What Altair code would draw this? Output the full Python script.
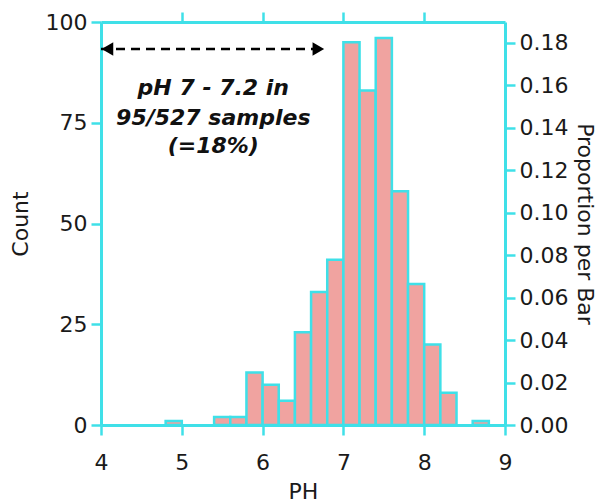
import altair as alt
import pandas as pd

# ---- data ----
bin_start = [4.8, 5.4, 5.6, 5.8, 6.0, 6.2, 6.4, 6.6, 6.8, 7.0, 7.2, 7.4, 7.6, 7.8, 8.0, 8.2, 8.6]
counts = [1, 2, 2, 13, 10, 6, 23, 33, 41, 95, 83, 96, 58, 35, 20, 8, 1]
bin_width = 0.2
total = 527

x_ticks = [4, 5, 6, 7, 8, 9]
top_ticks = [5, 6, 7, 8]
count_ticks = [0, 25, 50, 75, 100]
prop_ticks = [0.00, 0.02, 0.04, 0.06, 0.08, 0.10, 0.12, 0.14, 0.16, 0.18]

ann_lines = ["pH 7 - 7.2 in", "95/527 samples", "(=18%)"]
ann_x = [5.39, 5.39, 5.39]
ann_y = [81.9, 74.4, 67.4]

arrow_x = [4.0]
arrow_x2 = [6.77]
arrow_y = [93.3]
head_x = [4.08, 6.69]
head_y = [93.3, 93.3]
head_shape = ["triangle-left", "triangle-right"]

CYAN = "#3FE0E8"
PINK = "#F0A3A0"
TEXT = "#1a1a1a"
FONT = "DejaVu Sans"

df = pd.DataFrame({
    "start": bin_start,
    "end": [s + bin_width for s in bin_start],
    "count": counts,
})
ann_df = pd.DataFrame({"x": ann_x, "y": ann_y, "line": ann_lines})
arrow_df = pd.DataFrame({"x": arrow_x, "x2": arrow_x2, "y": arrow_y})
head_df = pd.DataFrame({"x": head_x, "y": head_y, "shape": head_shape})

x_scale = alt.Scale(domain=[4, 9], nice=False, zero=False, padding=0)
y_scale = alt.Scale(domain=[0, 100], nice=False, padding=0)

bars = alt.Chart(df).mark_rect(fill=PINK, stroke=CYAN, strokeWidth=2.5).encode(
    x=alt.X("start:Q", scale=x_scale,
            axis=alt.Axis(orient="bottom", values=x_ticks, title="PH", format="d",
                          labelFlush=False, labelPadding=17, titlePadding=8)),
    x2="end:Q",
    y=alt.Y("count:Q", scale=y_scale,
            axis=alt.Axis(orient="left", values=count_ticks, title="Count", titlePadding=13)),
    y2=alt.datum(0),
)

frame = alt.Chart(df).mark_rect(opacity=0).encode(
    x=alt.X("start:Q", scale=x_scale,
            axis=alt.Axis(orient="top", values=top_ticks, labels=False, title=None)),
    x2="end:Q",
    y=alt.Y("count:Q", scale=y_scale,
            axis=alt.Axis(orient="right", values=[p * total for p in prop_ticks],
                          labelExpr="format(datum.value / 527, '.2f')",
                          title="Proportion per Bar", titlePadding=5)),
    y2=alt.datum(0),
)

text = alt.Chart(ann_df).mark_text(
    font=FONT, fontSize=22, fontWeight="bold", fontStyle="italic",
    align="center", baseline="alphabetic", color="#111111",
).encode(
    x=alt.X("x:Q", scale=x_scale, axis=None),
    y=alt.Y("y:Q", scale=y_scale, axis=None),
    text="line:N",
)

rule = alt.Chart(arrow_df).mark_rule(strokeDash=[9, 6], strokeWidth=2.5, color="black").encode(
    x=alt.X("x:Q", scale=x_scale, axis=None),
    x2="x2:Q",
    y=alt.Y("y:Q", scale=y_scale, axis=None),
)

heads = alt.Chart(head_df).mark_point(filled=True, size=180, color="black", opacity=1).encode(
    x=alt.X("x:Q", scale=x_scale, axis=None),
    y=alt.Y("y:Q", scale=y_scale, axis=None),
    shape=alt.Shape("shape:N", scale=None),
)

chart = alt.layer(frame, bars, text, rule, heads).resolve_axis(
    x="independent", y="independent"
).properties(
    width=404, height=403,
    padding={"left": 93, "top": 14, "right": 93, "bottom": 80},
    autosize=alt.AutoSizeParams(type="none"),
).configure_view(stroke=None).configure_axis(
    domainColor=CYAN, domainWidth=3, tickColor=CYAN, tickWidth=2.5, tickSize=10,
    labelFont=FONT, labelFontSize=22, labelColor=TEXT, labelPadding=4,
    titleFont=FONT, titleFontSize=22, titleFontWeight="normal", titleColor=TEXT,
    grid=False, labelOverlap=False,
)

chart.save("out.html", embed_options={"renderer": "svg", "actions": False})
